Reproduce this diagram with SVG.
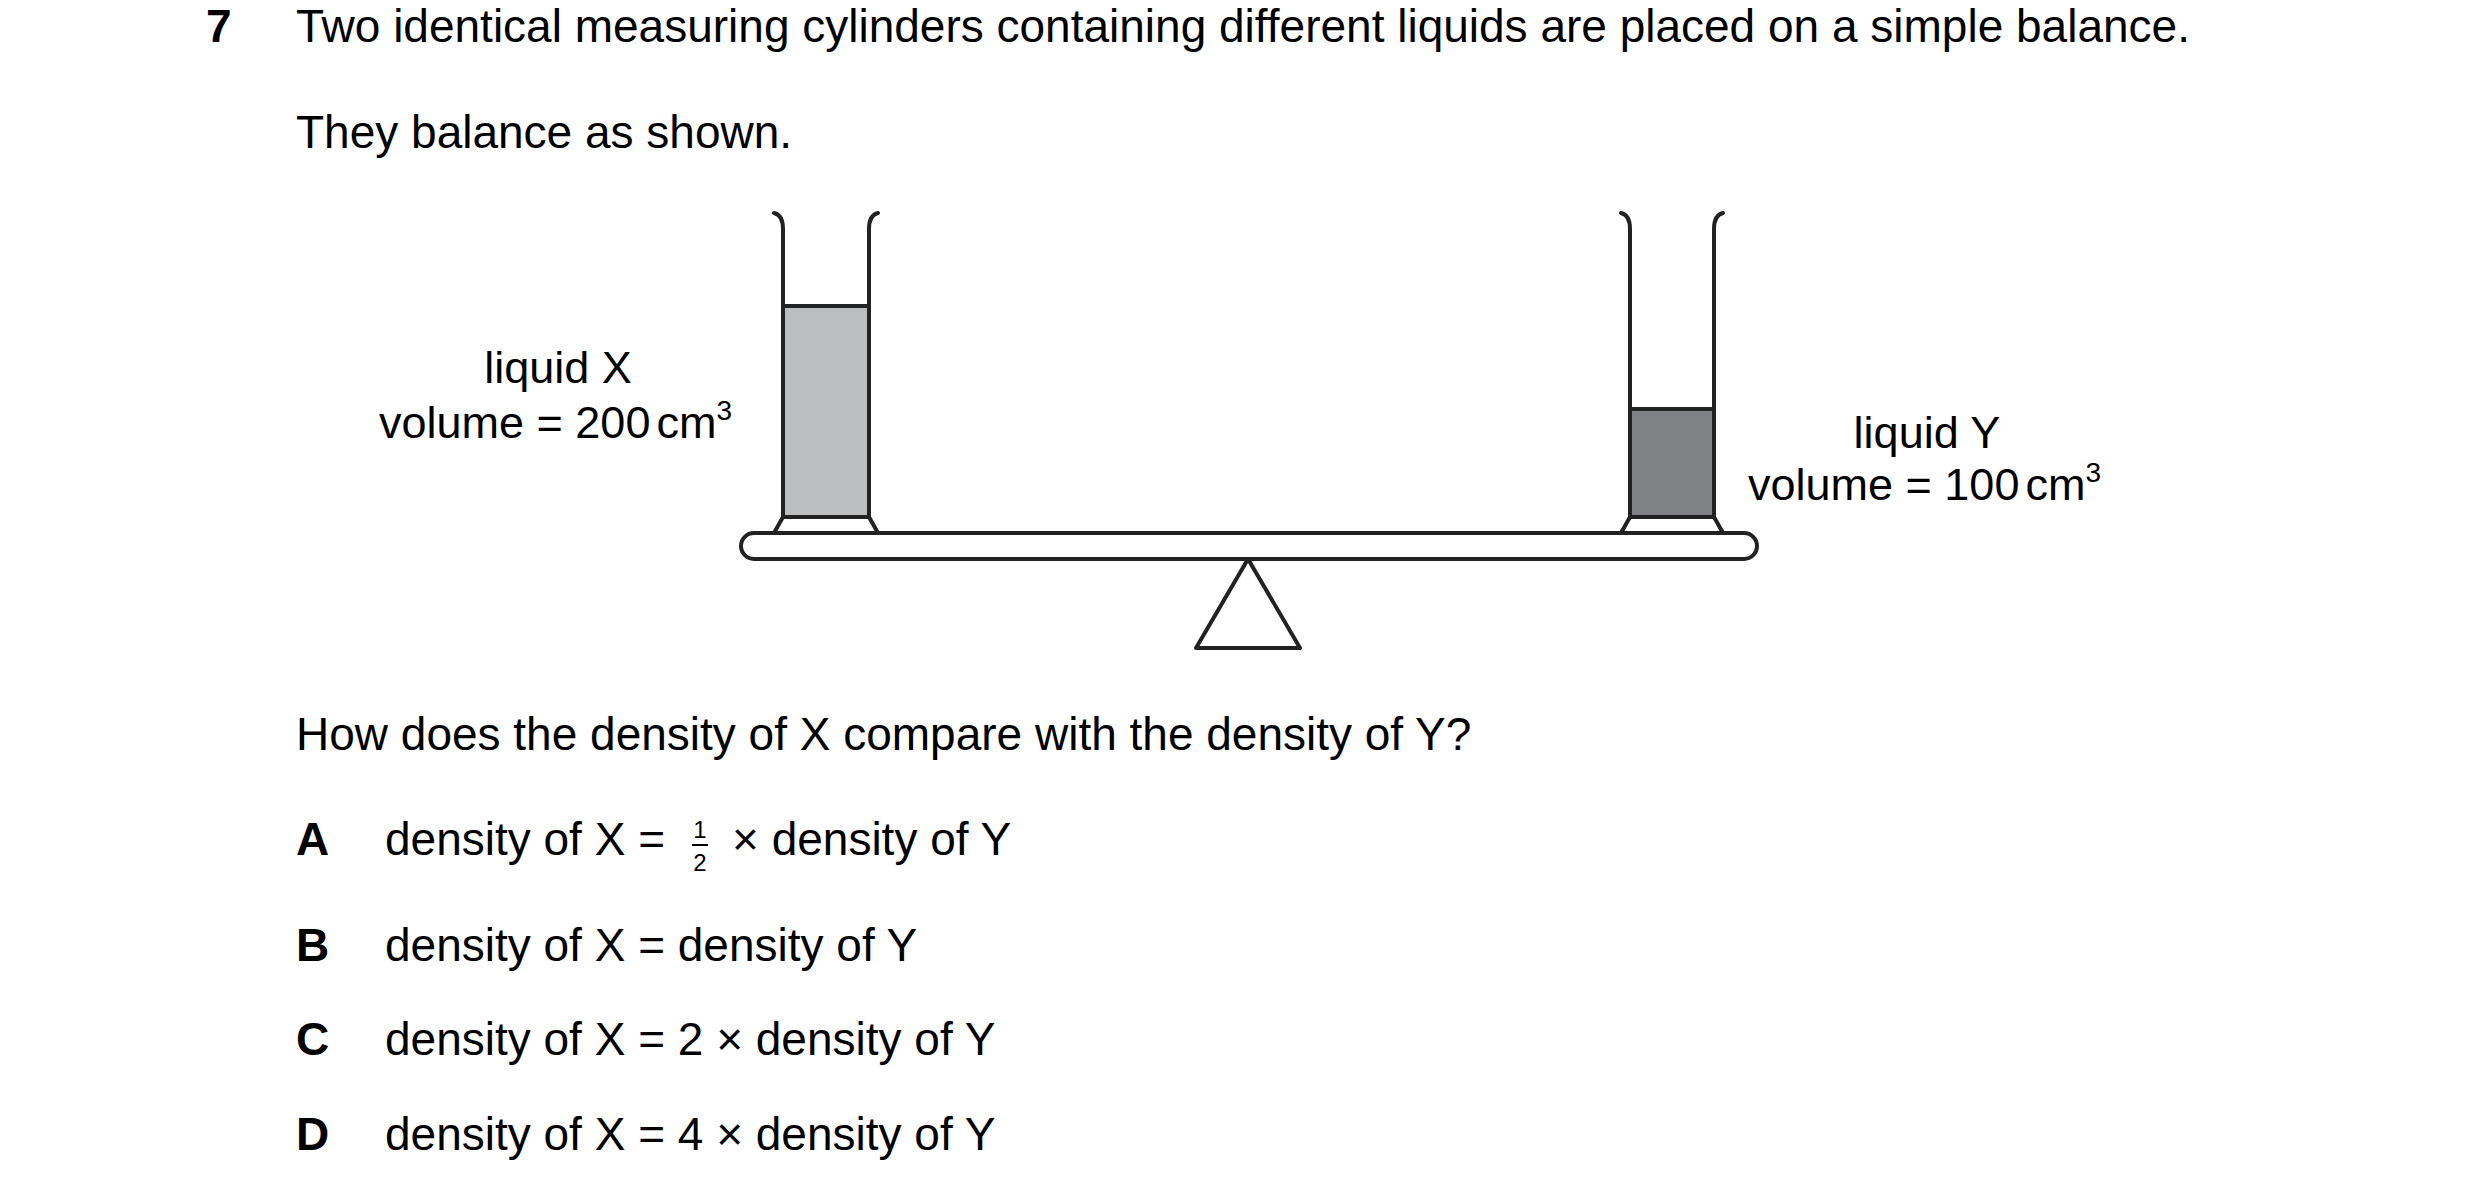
<svg xmlns="http://www.w3.org/2000/svg" width="2480" height="1193" viewBox="0 0 2480 1193">
<style>
text{font-family:"Liberation Sans",Arial,sans-serif;font-size:46px;fill:#000}
.b{font-weight:bold}
.lab{font-size:45px}
.fr{font-size:24px}
.ln{fill:none;stroke:#222;stroke-width:4;stroke-linejoin:round;stroke-linecap:round}
</style>
<rect width="2480" height="1193" fill="#fff"/>
<text class="b" x="206" y="42">7</text>
<text x="296" y="42">Two identical measuring cylinders containing different liquids are placed on a simple balance.</text>
<text x="296" y="148">They balance as shown.</text>
<g id="beam">
<rect class="ln" x="741" y="533" width="1016" height="26" rx="13" fill="#fff"/>
</g>
<g id="fulcrum">
<path class="ln" d="M1248 559 L1300 648 L1196 648 Z" fill="#fff"/>
</g>
<g id="cylinderX">
<rect x="783" y="306" width="86" height="211" fill="#bcbdbf"/>
<path class="ln" d="M774 213 Q783 215 783 229 L783 517 M878 213 Q869 215 869 229 L869 517 M783 306 L869 306 M783 517 L869 517 M783 517 L774 533 M869 517 L878 533"/>
</g>
<g id="cylinderY">
<rect x="1630" y="409" width="84" height="108" fill="#808184"/>
<path class="ln" d="M1621 213 Q1630 215 1630 229 L1630 517 M1723 213 Q1714 215 1714 229 L1714 517 M1630 409 L1714 409 M1630 517 L1714 517 M1630 517 L1621 533 M1714 517 L1723 533"/>
</g>
<g id="labelX">
<text class="lab" x="558" y="383" text-anchor="middle">liquid X</text>
<text class="lab" x="379" y="438">volume = 200<tspan dx="6">cm</tspan><tspan font-size="28" dy="-18">3</tspan></text>
</g>
<g id="labelY">
<text class="lab" x="1927" y="448" text-anchor="middle">liquid Y</text>
<text class="lab" x="1748" y="500">volume = 100<tspan dx="6">cm</tspan><tspan font-size="28" dy="-18">3</tspan></text>
</g>
<text x="296" y="750">How does the density of X compare with the density of Y?</text>
<g id="options">
<text class="b" x="296" y="855">A</text>
<text x="385" y="855">density of X =</text>
<text class="fr" x="700" y="838" text-anchor="middle">1</text>
<line x1="692" y1="845" x2="708" y2="845" stroke="#000" stroke-width="2"/>
<text class="fr" x="700" y="871" text-anchor="middle">2</text>
<text x="732" y="855">× density of Y</text>
<text class="b" x="296" y="961">B</text>
<text x="385" y="961">density of X = density of Y</text>
<text class="b" x="296" y="1055">C</text>
<text x="385" y="1055">density of X = 2 × density of Y</text>
<text class="b" x="296" y="1150">D</text>
<text x="385" y="1150">density of X = 4 × density of Y</text>
</g>
</svg>
